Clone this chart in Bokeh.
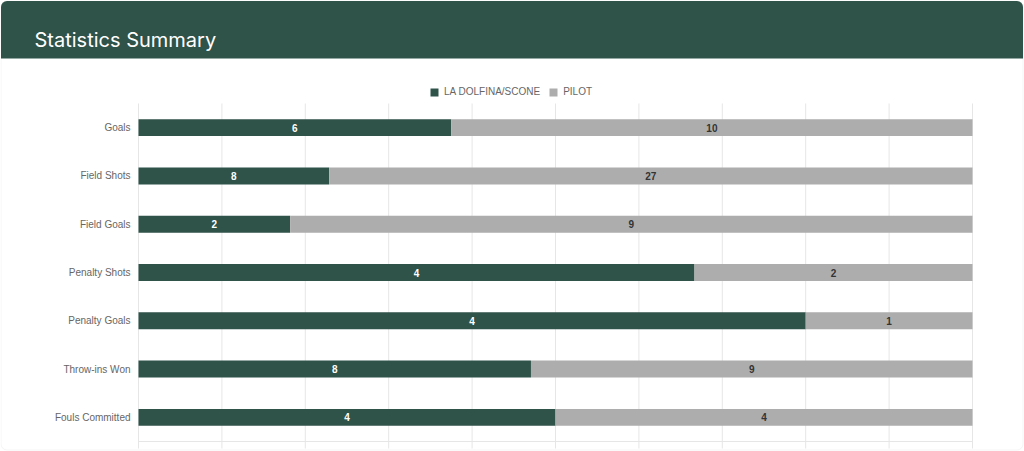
from bokeh.plotting import figure
from bokeh.models import (ColumnDataSource, Range1d, BoxAnnotation, Label,
                          Legend, LegendItem)
from bokeh.core.properties import value
from bokeh.embed import file_html
from bokeh.resources import INLINE

categories = ["Goals", "Field Shots", "Field Goals", "Penalty Shots",
              "Penalty Goals", "Throw-ins Won", "Fouls Committed"]
la_dolfina = [6, 8, 2, 4, 4, 8, 4]
pilot = [10, 27, 9, 2, 1, 9, 4]
series_names = ["LA DOLFINA/SCONE", "PILOT"]
colors = ["#2F5249", "#ADADAD"]
title_text = "Statistics Summary"
grid_ticks = [i / 10 for i in range(11)]

W, H = 1024, 451
FL, FR, FT, FB = 138, 972, 103, 441  # plot area edges on canvas
n = len(categories)
pitch = (FB - FT) / n

totals = [a + b for a, b in zip(la_dolfina, pilot)]
a_share = [a / t for a, t in zip(la_dolfina, totals)]
b_share = [b / t for b, t in zip(pilot, totals)]
idx = list(range(n))
src = ColumnDataSource(dict(
    pos=idx, cat=categories, a=a_share, b=b_share,
    a_mid=[s / 2 for s in a_share],
    b_mid=[s + t / 2 for s, t in zip(a_share, b_share)],
    a_txt=[str(v) for v in la_dolfina],
    b_txt=[str(v) for v in pilot],
))

span = FR - FL
p = figure(width=W, height=H, output_backend="svg", toolbar_location=None,
           x_range=Range1d(-FL / span, 1 + (W - FR) / span),
           y_range=Range1d(n - 0.5 + (H - FB) / pitch, -0.5 - FT / pitch),
           x_axis_location=None, y_axis_location=None,
           min_border=0)
p.outline_line_color = None
p.background_fill_color = "white"
p.border_fill_color = "white"
p.xgrid.visible = False
p.ygrid.visible = False

# card border and header
card = BoxAnnotation(left=0.5, right=W - 1.5, top=H - 0.5, bottom=H - 449.5,
                     left_units="screen", right_units="screen",
                     top_units="screen", bottom_units="screen",
                     fill_alpha=0, line_color="#DDDDDD", line_width=1,
                     border_radius=6, level="underlay")
header = BoxAnnotation(left=0.5, right=W - 1.5, top=H - 0.5, bottom=H - 58,
                       left_units="screen", right_units="screen",
                       top_units="screen", bottom_units="screen",
                       fill_color="#2F5249", fill_alpha=1, line_color=None,
                       border_radius=(6, 6, 0, 0), level="underlay")
p.add_layout(card)
p.add_layout(header)
p.add_layout(Label(x=34, y=H - 39, x_units="screen", y_units="screen",
                   text=title_text, text_color="white", text_font_size="20px",
                   text_font="Inter", text_baseline="alphabetic"))

# vertical grid lines (extending 7px below the base line) and base line
gsrc = ColumnDataSource(dict(x=grid_ticks))
p.segment(x0="x", x1="x", y0=-0.5, y1=n - 0.5 + 7 / pitch, source=gsrc,
          line_color="#E6E6E6", line_width=1)
p.segment(x0=0, x1=1, y0=n - 0.5, y1=n - 0.5, line_color="#E6E6E6", line_width=1)

rs = p.hbar_stack(["a", "b"], y="pos", height=0.35, color=colors,
                  line_color=None, source=src)

p.text(x="a_mid", y="pos", text="a_txt", source=src, text_align="center",
       text_baseline="middle", text_color="white", text_font_size="10px",
       text_font_style="bold", text_font=value("Liberation Sans"))
p.text(x="b_mid", y="pos", text="b_txt", source=src, text_align="center",
       text_baseline="middle", text_color="#333333", text_font_size="10px",
       text_font_style="bold", text_font=value("Liberation Sans"))

# category labels
p.text(x=0, y="pos", text="cat", source=src, x_offset=-8, text_align="right",
       text_baseline="middle", text_color="#666666", text_font_size="10px",
       text_font=value("Liberation Sans"))

legend = Legend(items=[LegendItem(label=nm, renderers=[r]) for nm, r in zip(series_names, rs)],
                orientation="horizontal", location=(429, H - 97),
                glyph_width=10, glyph_height=10, label_height=10,
                label_standoff=5, spacing=8, padding=0, margin=0,
                label_text_font_size="10px", label_text_color="#666666",
                label_text_font="Liberation Sans",
                border_line_color=None, background_fill_alpha=0)
p.add_layout(legend, "center")

open("out.html", "w").write(file_html(p, INLINE))
